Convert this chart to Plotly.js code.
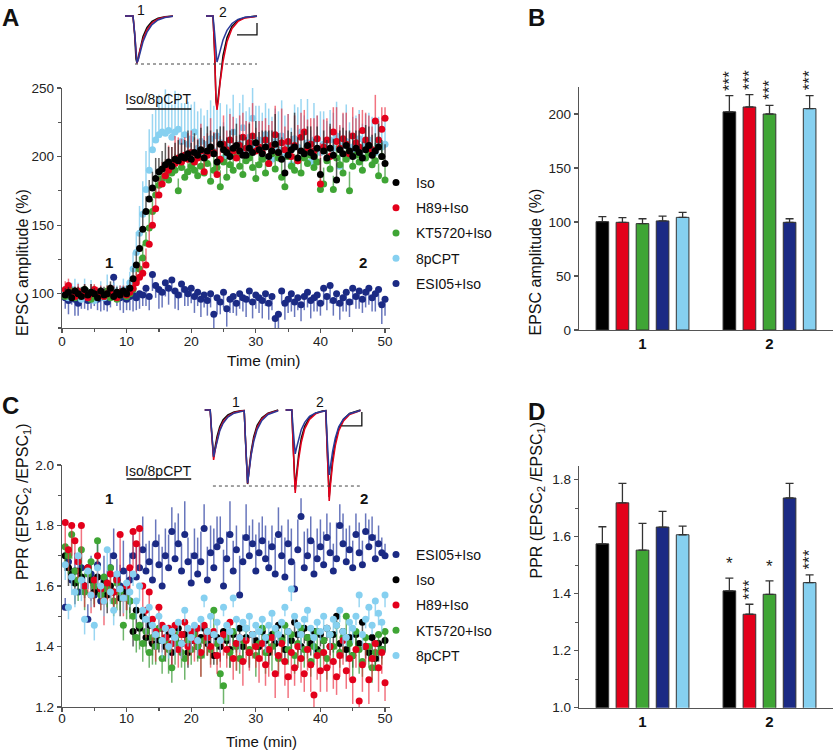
<!DOCTYPE html>
<html>
<head>
<meta charset="utf-8">
<script src="https://cdn.plot.ly/plotly-3.0.1.min.js"></script>
<style>
  html, body { margin: 0; padding: 0; background: #fff; }
  #chart { width: 837px; height: 752px; }
</style>
</head>
<body>
<div id="chart"></div>
<script>
// ---------------- data ----------------

// sampling times (min), shared by the time-course panels A and C
const timeMin = [
  0.5,1,1.5,2,2.5,3,3.5,4,4.5,5,5.5,6,6.5,7,7.5,8,8.5,9,9.5,10,
  10.5,11,11.5,12,12.5,13,13.5,14,14.5,15,15.5,16,16.5,17,17.5,18,18.5,19,19.5,20,
  20.5,21,21.5,22,22.5,23,23.5,24,24.5,25,25.5,26,26.5,27,27.5,28,28.5,29,29.5,30,
  30.5,31,31.5,32,32.5,33,33.5,34,34.5,35,35.5,36,36.5,37,37.5,38,38.5,39,39.5,40,
  40.5,41,41.5,42,42.5,43,43.5,44,44.5,45,45.5,46,46.5,47,47.5,48,48.5,49,49.5,50
];

// panel A: EPSC amplitude (%)
const ampIso = [
  99,101,97,102,100,98,103,99,101,100,97,102,99,100,104,98,101,99,102,100,
  104,111,121,133,147,160,169,177,184,189,191,194,196,193,198,197,200,199,202,198,
  203,201,205,199,204,207,202,196,209,205,203,200,206,208,204,201,201,206,203,210,
  205,202,207,200,204,209,203,198,188,201,205,207,199,204,202,208,203,200,206,187,
  204,199,206,201,183,205,202,208,204,200,206,203,199,205,208,201,204,207,200,195
];
const ampH89 = [
  103,106,100,98,102,99,101,97,100,103,99,101,98,100,102,99,97,101,100,99,
  101,104,108,112,115,121,136,150,162,172,180,186,190,193,195,199,196,201,198,203,
  196,199,204,189,201,206,203,187,198,209,205,212,204,199,208,214,206,210,215,204,
  207,203,212,195,208,216,203,210,205,211,200,208,197,214,218,206,209,204,213,180,
  207,212,200,218,211,206,213,209,202,215,210,207,219,212,208,205,226,212,220,228
];
const ampKT = [
  98,100,102,97,101,99,103,100,96,101,99,100,98,102,97,100,96,99,101,98,
  100,103,110,118,126,137,148,160,172,179,184,186,183,188,190,175,192,185,189,193,
  190,186,193,188,195,182,190,192,178,196,185,194,190,200,193,187,197,199,192,184,
  194,198,188,195,202,191,199,185,178,200,193,190,197,188,199,195,201,192,196,176,
  180,197,191,176,199,194,188,198,175,193,201,196,190,199,203,194,197,186,200,183
];
const ampCPT = [
  100,97,103,99,101,96,102,98,100,95,99,101,97,100,98,102,99,101,103,100,
  108,118,130,144,158,176,190,205,212,216,218,217,219,214,218,220,211,216,209,213,
  218,206,211,200,209,213,204,215,210,199,207,212,218,203,209,221,205,214,228,208,
  212,203,216,208,198,211,205,215,200,209,194,213,207,218,202,210,196,212,205,203,
  209,198,212,206,215,193,208,211,201,207,204,213,199,208,212,205,203,210,207,209
];
const ampESI = [
  97,95,99,96,93,97,100,95,98,101,96,99,97,94,100,112,99,97,98,96,
  98,99,97,100,99,104,98,114,106,103,101,108,104,110,102,99,107,103,100,104,
  98,101,96,99,95,100,85,97,94,101,89,96,98,93,100,97,96,102,94,99,
  97,95,100,93,98,82,85,102,93,96,100,94,97,92,98,101,95,97,99,93,
  104,98,106,95,100,93,97,101,94,104,98,102,96,101,104,97,100,103,92,96
];
// SEM (upward for Iso/H89/KT/8pCPT, downward for ESI05)
const errAmpIso = [
  5,4,6,3,5,7,4,5,6,4,5,3,6,4,5,7,4,5,3,6,
  6,8,10,12,13,11,14,12,15,10,13,16,11,14,12,15,10,13,17,12,
  14,11,16,13,18,12,15,24,13,17,11,19,14,16,12,15,13,18,14,16,
  13,17,12,19,15,22,14,16,11,18,13,25,15,12,17,14,19,13,16,12,
  15,13,18,12,16,14,19,11,15,17,13,16,12,18,14,15,13,17,12,14
];
const errAmpH89 = [
  6,5,4,7,5,4,6,5,7,4,6,5,4,6,5,7,4,5,6,5,
  6,7,8,10,9,12,14,11,15,13,16,12,18,14,20,15,17,13,19,16,
  18,14,20,26,16,22,15,30,17,21,14,19,25,16,22,18,20,15,24,17,
  19,23,16,28,18,21,14,25,17,20,15,22,26,18,16,21,19,24,17,30,
  20,16,22,18,25,17,19,23,16,21,18,24,15,20,22,17,19,14,16,8
];
const errAmpKT = [
  4,5,3,6,4,5,3,4,6,5,4,3,5,4,6,3,4,5,4,3,
  5,6,8,9,10,8,11,9,12,10,9,11,8,10,12,9,11,8,10,9,
  11,9,12,10,8,13,10,9,12,11,14,9,10,12,8,11,13,9,10,12,
  9,11,13,10,8,12,9,14,11,10,8,12,10,13,9,11,10,12,9,14,
  12,9,11,10,13,9,12,8,14,10,11,9,12,10,8,11,13,9,10,11
];
const errAmpCPT = [
  6,8,5,12,7,5,9,6,10,7,5,8,6,14,9,6,7,5,8,6,
  8,12,15,20,24,28,30,26,22,29,25,32,27,24,30,26,28,23,31,25,
  22,27,24,30,25,28,33,24,29,26,31,23,27,25,30,24,28,22,26,29,
  25,29,23,27,31,24,28,26,30,22,27,25,29,24,28,32,23,27,25,30,
  24,28,22,26,25,29,23,27,24,22,26,21,25,23,20,24,22,19,21,18
];
const errAmpESI = [
  8,10,7,12,9,8,11,7,9,10,8,12,9,7,10,11,8,9,12,8,
  10,12,9,11,8,13,10,12,9,14,11,10,12,9,13,11,10,12,9,11,
  12,10,13,9,11,10,14,12,9,11,13,10,12,9,11,10,13,9,12,10,
  11,13,9,12,10,14,11,9,12,10,13,11,9,12,10,11,13,10,12,9,
  12,10,13,11,9,12,10,14,11,12,9,13,10,11,12,10,13,11,14,12
];

// panel C: paired-pulse ratio
const pprIso = [
  1.70,1.66,1.64,1.61,1.65,1.63,1.60,1.66,1.62,1.58,1.63,1.59,1.61,1.57,1.60,1.58,1.62,1.56,1.59,1.57,
  1.55,1.45,1.52,1.46,1.50,1.43,1.47,1.41,1.45,1.42,1.46,1.40,1.44,1.38,1.43,1.46,1.41,1.44,1.38,1.42,
  1.45,1.40,1.43,1.46,1.41,1.44,1.37,1.43,1.40,1.45,1.42,1.39,1.44,1.41,1.46,1.40,1.43,1.38,1.44,1.42,
  1.40,1.45,1.42,1.38,1.44,1.41,1.47,1.43,1.39,1.45,1.42,1.48,1.44,1.40,1.46,1.43,1.41,1.45,1.39,1.44,
  1.42,1.46,1.40,1.44,1.50,1.41,1.45,1.39,1.43,1.37,1.44,1.41,1.48,1.40,1.38,1.43,1.36,1.41,1.39,1.42
];
const pprH89 = [
  1.81,1.72,1.80,1.75,1.68,1.80,1.60,1.66,1.57,1.62,1.70,1.59,1.55,1.61,1.64,1.58,1.62,1.77,1.56,1.60,
  1.66,1.78,1.74,1.79,1.60,1.52,1.58,1.49,1.45,1.53,1.47,1.43,1.46,1.41,1.47,1.39,1.44,1.48,1.40,1.45,
  1.42,1.46,1.38,1.47,1.43,1.40,1.45,1.37,1.42,1.44,1.39,1.48,1.36,1.41,1.43,1.35,1.42,1.38,1.44,1.40,
  1.36,1.41,1.34,1.39,1.43,1.31,1.37,1.41,1.35,1.30,1.38,1.33,1.40,1.36,1.31,1.39,1.34,1.24,1.37,1.32,
  1.38,1.33,1.40,1.35,1.30,1.37,1.42,1.32,1.36,1.29,1.39,1.22,1.34,1.40,1.29,1.36,1.41,1.33,1.38,1.28
];
const pprKT = [
  1.73,1.70,1.77,1.65,1.62,1.72,1.58,1.64,1.68,1.60,1.75,1.57,1.63,1.59,1.66,1.55,1.61,1.58,1.47,1.56,
  1.55,1.50,1.43,1.47,1.41,1.45,1.38,1.43,1.40,1.46,1.36,1.42,1.39,1.33,1.41,1.44,1.38,1.36,1.42,1.39,
  1.44,1.40,1.37,1.42,1.45,1.39,1.52,1.41,1.31,1.27,1.43,1.38,1.45,1.40,1.36,1.42,1.46,1.39,1.44,1.37,
  1.41,1.46,1.38,1.43,1.40,1.45,1.36,1.42,1.47,1.39,1.44,1.37,1.41,1.46,1.39,1.43,1.35,1.40,1.45,1.38,
  1.42,1.36,1.44,1.40,1.47,1.38,1.43,1.50,1.41,1.37,1.45,1.39,1.35,1.43,1.40,1.33,1.38,1.44,1.39,1.45
];
const pprCPT = [
  1.67,1.53,1.63,1.58,1.70,1.62,1.49,1.65,1.57,1.47,1.66,1.60,1.55,1.72,1.58,1.52,1.64,1.59,1.56,1.61,
  1.58,1.64,1.55,1.60,1.52,1.49,1.53,1.47,1.44,1.50,1.42,1.46,1.40,1.45,1.43,1.48,1.41,1.52,1.46,1.43,
  1.47,1.42,1.49,1.56,1.45,1.50,1.44,1.48,1.42,1.53,1.47,1.45,1.56,1.49,1.43,1.48,1.46,1.50,1.44,1.47,
  1.45,1.49,1.43,1.47,1.51,1.46,1.44,1.48,1.53,1.45,1.59,1.50,1.47,1.44,1.49,1.52,1.46,1.43,1.48,1.45,
  1.50,1.46,1.44,1.49,1.47,1.52,1.45,1.43,1.48,1.46,1.50,1.57,1.44,1.49,1.53,1.47,1.55,1.51,1.48,1.57
];
const pprESI = [
  1.53,1.68,1.62,1.65,1.58,1.66,1.60,1.49,1.64,1.57,1.67,1.55,1.62,1.59,1.66,1.70,1.63,1.60,1.65,1.58,
  1.62,1.70,1.63,1.66,1.72,1.65,1.68,1.62,1.74,1.67,1.60,1.70,1.66,1.78,1.69,1.74,1.65,1.77,1.68,1.61,
  1.70,1.64,1.68,1.79,1.62,1.71,1.66,1.73,1.75,1.60,1.69,1.77,1.65,1.72,1.57,1.68,1.76,1.70,1.74,1.65,
  1.71,1.75,1.69,1.66,1.73,1.64,1.77,1.70,1.63,1.74,1.68,1.59,1.72,1.83,1.66,1.70,1.75,1.64,1.69,1.73,
  1.67,1.76,1.71,1.65,1.69,1.80,1.74,1.68,1.72,1.66,1.77,1.71,1.67,1.78,1.73,1.76,1.69,1.74,1.71,1.70
];
// SEM (downward for Iso/H89/KT/8pCPT, upward for ESI05)
const errPprIso = [
  .05,.06,.04,.07,.05,.06,.04,.05,.07,.05,.06,.04,.05,.06,.04,.07,.05,.06,.04,.05,
  .04,.05,.06,.04,.05,.03,.06,.04,.05,.04,.03,.05,.04,.06,.03,.05,.04,.03,.05,.04,
  .05,.04,.03,.05,.04,.06,.03,.04,.05,.03,.04,.06,.04,.03,.05,.04,.03,.05,.04,.03,
  .04,.05,.03,.04,.06,.04,.05,.03,.04,.05,.03,.04,.06,.04,.05,.03,.04,.05,.03,.04,
  .05,.04,.03,.06,.04,.05,.03,.04,.05,.04,.06,.03,.05,.04,.03,.05,.04,.06,.03,.04
];
const errPprH89 = [
  .09,.07,.10,.08,.06,.11,.07,.08,.06,.09,.10,.07,.08,.06,.09,.07,.08,.12,.06,.08,
  .08,.12,.10,.14,.07,.09,.06,.08,.10,.07,.09,.06,.08,.07,.09,.06,.08,.07,.06,.08,
  .07,.06,.08,.09,.06,.07,.08,.06,.09,.07,.06,.08,.07,.09,.06,.08,.07,.06,.08,.07,
  .08,.06,.07,.09,.06,.08,.07,.06,.08,.07,.09,.06,.07,.08,.06,.07,.09,.06,.08,.07,
  .06,.08,.07,.09,.06,.07,.08,.06,.07,.08,.06,.07,.09,.06,.08,.07,.06,.08,.07,.06
];
const errPprKT = [
  .07,.06,.08,.05,.07,.09,.06,.05,.08,.06,.07,.05,.08,.06,.07,.05,.09,.06,.05,.07,
  .06,.07,.05,.08,.06,.07,.05,.09,.06,.07,.05,.06,.08,.05,.07,.06,.05,.07,.06,.05,
  .06,.05,.07,.06,.08,.05,.06,.07,.05,.06,.07,.05,.06,.08,.05,.06,.07,.05,.06,.07,
  .05,.06,.07,.05,.08,.06,.05,.07,.06,.05,.07,.06,.08,.05,.06,.07,.05,.06,.07,.05,
  .06,.07,.05,.06,.08,.05,.07,.06,.05,.07,.06,.08,.05,.06,.07,.05,.06,.07,.05,.06
];
const errPprCPT = [
  .05,.04,.06,.05,.04,.07,.05,.06,.04,.05,.06,.04,.05,.07,.04,.05,.06,.04,.05,.06,
  .05,.04,.06,.05,.04,.05,.06,.04,.05,.04,.06,.05,.04,.05,.06,.04,.05,.04,.06,.05,
  .04,.05,.04,.03,.05,.04,.03,.05,.04,.03,.05,.04,.03,.04,.05,.03,.04,.05,.03,.04,
  .03,.04,.05,.03,.04,.05,.03,.04,.03,.05,.04,.03,.04,.05,.03,.04,.03,.05,.04,.03,
  .04,.03,.05,.04,.03,.04,.05,.03,.04,.05,.03,.04,.05,.03,.04,.03,.05,.04,.03,.04
];
const errPprESI = [
  .03,.05,.04,.06,.05,.07,.04,.05,.06,.04,.07,.05,.08,.06,.05,.09,.06,.07,.10,.08,
  .09,.07,.10,.08,.11,.09,.07,.12,.08,.10,.13,.09,.11,.08,.12,.10,.09,.11,.08,.10,
  .09,.12,.10,.08,.11,.09,.13,.10,.08,.12,.09,.11,.10,.08,.13,.09,.11,.10,.08,.12,
  .10,.08,.11,.09,.07,.12,.09,.10,.13,.08,.11,.09,.10,.06,.12,.09,.08,.11,.10,.09,
  .11,.08,.10,.09,.12,.07,.10,.11,.08,.09,.07,.10,.08,.06,.09,.07,.08,.06,.05,.04
];

// drug application window (min)
const drugWindow = [10, 20];

// panels B and D: summary at time points 1 and 2
const periods = ['1', '2'];
const barAmpIso = [100.3, 202.0], barAmpIsoErr = [4.6, 15.0];
const barAmpH89 = [99.7, 206.5],  barAmpH89Err = [4.3, 11.5];
const barAmpKT  = [98.5, 200.0],  barAmpKTErr  = [4.5, 8.0];
const barAmpESI = [101.0, 99.7],  barAmpESIErr = [4.5, 3.3];
const barAmpCPT = [104.3, 205.0], barAmpCPTErr = [4.7, 12.0];
const barPprIso = [1.575, 1.410], barPprIsoErr = [0.060, 0.045];
const barPprH89 = [1.719, 1.328], barPprH89Err = [0.068, 0.035];
const barPprKT  = [1.553, 1.398], barPprKTErr  = [0.094, 0.047];
const barPprESI = [1.634, 1.736], barPprESIErr = [0.055, 0.051];
const barPprCPT = [1.607, 1.439], barPprCPTErr = [0.030, 0.027];
const starsAmp = ['***', '***', '***', '', '***'];
const starsPpr = ['*', '***', '*', '', '***'];

// example EPSC traces (ms, pA); sweep 1 and sweep 2 split by null
const epscT = [2.5,6.5,7.3,8.0,8.5,9.2,10.0,11.5,13.5,16,19,22.5,26.5,null,
               43,46.5,47.3,48.0,48.5,49.2,50.0,51.5,53.5,56,59,62.5,68.5];
const epscIso = [0,0,-150,-360,-392,-340,-260,-170,-95,-45,-18,-6,0,null,
                 0,0,-300,-700,-767,-670,-520,-330,-180,-85,-35,-12,0];
const epscH89 = [0,0,-140,-350,-395,-355,-285,-195,-115,-58,-25,-9,-2,null,
                 0,0,-290,-710,-783,-700,-560,-380,-215,-105,-45,-16,-2];
const epscESI = [0,0,-135,-345,-390,-360,-300,-215,-135,-72,-33,-12,-3,null,
                 0,0,-140,-340,-383,-345,-285,-200,-120,-62,-28,-10,-2];
const epscRef = -400;          // dotted reference level (pA)
const scaleA = [10, 100];      // scale bar (ms, pA)

// example paired-pulse traces (ms, pA)
const ppT = [7,15,17,19,20,22,25,29,34,41,50,60,65,67,69,70,72,75,79,84,91,100,115,null,
             126,135,137,139,140,142,145,149,154,161,170,180,185,187,189,190,192,195,199,204,211,220,236];
const ppIso = [0,0,-150,-320,-336,-270,-190,-120,-70,-35,-15,-6,-4,-230,-505,-529,-430,-300,-190,-110,-55,-22,0,null,
               0,0,-250,-545,-570,-460,-320,-200,-115,-55,-22,-8,-5,-270,-595,-621,-500,-350,-225,-130,-65,-25,0];
const ppH89 = [0,0,-160,-340,-357,-295,-215,-140,-85,-45,-20,-8,-5,-225,-500,-525,-440,-320,-210,-125,-65,-27,-3,null,
               0,0,-260,-565,-593,-490,-355,-230,-135,-68,-28,-10,-6,-280,-620,-650,-530,-385,-255,-150,-78,-32,-4];
const ppESI = [0,0,-145,-315,-334,-290,-220,-150,-95,-50,-23,-9,-6,-220,-495,-522,-445,-330,-225,-140,-75,-32,-5,null,
               0,0,-135,-295,-314,-270,-205,-140,-88,-46,-21,-8,-5,-200,-440,-464,-395,-295,-200,-120,-64,-27,-4];
const ppRef = -543;
const scaleC = [30, 100];

// ---------------- styling ----------------
const FONT = 'Liberation Sans, Arial, Helvetica, sans-serif';
const W = 837, H = 752;
const px = x => x / W;
const py = y => 1 - y / H;

const col = {
  iso: '#000000', h89: '#e3001b', kt: '#3fa535', cpt: '#86d0f0', esi: '#1b2a84'
};
const errCol = {
  iso: 'rgba(40,40,40,0.75)', h89: 'rgba(235,40,60,0.65)', kt: 'rgba(50,150,45,0.7)',
  cpt: 'rgba(120,200,238,0.75)', esi: 'rgba(40,60,160,0.7)'
};
const zeros = timeMin.map(() => 0);

// one time-course trace; up = error drawn upward
function course(name, key, y, err, up, xa, ya, legend, rank) {
  return {
    type: 'scatter', mode: 'markers', name: name,
    x: timeMin, y: y, xaxis: xa, yaxis: ya,
    legend: legend, legendgroup: legend + key, legendrank: rank,
    cliponaxis: false,
    marker: { color: col[key], size: 7 },
    error_y: {
      type: 'data', symmetric: false,
      array: up ? err : zeros, arrayminus: up ? zeros : err,
      color: errCol[key], thickness: 1.5, width: 0
    }
  };
}

function bars(y, err, key, xa, ya) {
  return {
    type: 'bar', x: periods, y: y, xaxis: xa, yaxis: ya, showlegend: false,
    marker: { color: col[key], line: { color: '#333', width: 1 } },
    error_y: {
      type: 'data', symmetric: false, array: err, arrayminus: [0, 0],
      color: '#333', thickness: 1.3, width: 4
    }
  };
}

function wave(x, y, color, xa, ya) {
  return {
    type: 'scatter', mode: 'lines', x: x, y: y, xaxis: xa, yaxis: ya,
    showlegend: false, connectgaps: false,
    line: { color: color, width: 1.5 }
  };
}

const data = [
  // panel A (drawn bottom to top)
  course('ESI05+Iso', 'esi', ampESI, errAmpESI, false, 'x', 'y', 'legend', 5),
  course('8pCPT', 'cpt', ampCPT, errAmpCPT, true, 'x', 'y', 'legend', 4),
  course('KT5720+Iso', 'kt', ampKT, errAmpKT, true, 'x', 'y', 'legend', 3),
  course('H89+Iso', 'h89', ampH89, errAmpH89, true, 'x', 'y', 'legend', 2),
  course('Iso', 'iso', ampIso, errAmpIso, true, 'x', 'y', 'legend', 1),
  // panel B
  bars(barAmpIso, barAmpIsoErr, 'iso', 'x2', 'y2'),
  bars(barAmpH89, barAmpH89Err, 'h89', 'x2', 'y2'),
  bars(barAmpKT, barAmpKTErr, 'kt', 'x2', 'y2'),
  bars(barAmpESI, barAmpESIErr, 'esi', 'x2', 'y2'),
  bars(barAmpCPT, barAmpCPTErr, 'cpt', 'x2', 'y2'),
  // panel C
  course('ESI05+Iso', 'esi', pprESI, errPprESI, true, 'x3', 'y3', 'legend2', 1),
  course('Iso', 'iso', pprIso, errPprIso, false, 'x3', 'y3', 'legend2', 2),
  course('KT5720+Iso', 'kt', pprKT, errPprKT, false, 'x3', 'y3', 'legend2', 4),
  course('H89+Iso', 'h89', pprH89, errPprH89, false, 'x3', 'y3', 'legend2', 3),
  course('8pCPT', 'cpt', pprCPT, errPprCPT, false, 'x3', 'y3', 'legend2', 5),
  // panel D
  bars(barPprIso, barPprIsoErr, 'iso', 'x4', 'y4'),
  bars(barPprH89, barPprH89Err, 'h89', 'x4', 'y4'),
  bars(barPprKT, barPprKTErr, 'kt', 'x4', 'y4'),
  bars(barPprESI, barPprESIErr, 'esi', 'x4', 'y4'),
  bars(barPprCPT, barPprCPTErr, 'cpt', 'x4', 'y4'),
  // insets
  wave(epscT, epscIso, '#111', 'x5', 'y5'),
  wave(epscT, epscH89, '#e3001b', 'x5', 'y5'),
  wave(epscT, epscESI, '#2a3a9a', 'x5', 'y5'),
  wave(ppT, ppIso, '#111', 'x6', 'y6'),
  wave(ppT, ppH89, '#e3001b', 'x6', 'y6'),
  wave(ppT, ppESI, '#2a3a9a', 'x6', 'y6')
];

// ---------------- axes ----------------
const axisBase = {
  showline: true, linecolor: '#555', linewidth: 1.2, showgrid: false, zeroline: false,
  ticks: 'outside', ticklen: 4, tickcolor: '#555', tickwidth: 1.2,
  tickfont: { family: FONT, size: 13.5, color: '#222' }, fixedrange: true
};
const minorTicks = (d) => ({ dtick: d, ticks: 'outside', ticklen: 3, tickcolor: '#555', tickwidth: 1.2, showgrid: false });

const xTime = (anchor, standoff) => Object.assign({}, axisBase, {
  anchor: anchor, domain: [px(62), px(390)], range: [0, 50.77],
  tick0: 0, dtick: 10, minor: minorTicks(5), ticklabelstandoff: standoff
});
const xCat = (anchor) => Object.assign({}, axisBase, {
  anchor: anchor, domain: [px(579), px(833)], range: [-0.5, 1.5],
  type: 'category', ticks: '', tickfont: { family: FONT, size: 15, color: '#111', weight: 'bold' }
});
const hiddenAxis = (anchor, dom, rng) => ({
  anchor: anchor, domain: dom, range: rng, visible: false, fixedrange: true
});

// ---------------- annotations ----------------
const ann = [];
function label(text, x, y, size, opts) {
  ann.push(Object.assign({
    text: text, x: x, y: y, xref: 'paper', yref: 'paper', showarrow: false,
    font: { family: FONT, size: size, color: '#111' }
  }, opts || {}));
}
// panel letters
label('<b>A</b>', px(0), py(2), 24, { xanchor: 'left', yanchor: 'top' });
label('<b>B</b>', px(526), py(2), 24, { xanchor: 'left', yanchor: 'top' });
label('<b>C</b>', px(0), py(390), 24, { xanchor: 'left', yanchor: 'top' });
label('<b>D</b>', px(526), py(396), 24, { xanchor: 'left', yanchor: 'top' });
// axis titles
label('EPSC amplitude (%)', px(12), py(187), 16, { textangle: -90 });
label('Time (min)', px(225), py(360), 15.5);
label('EPSC amplitude (%)', px(535), py(187), 16, { textangle: -90 });
label('PPR (EPSC<sub>2</sub> /EPSC<sub>1</sub>)', px(12), py(582), 16, { textangle: -90 });
label('Time (min)', px(225), 0, 15, { yanchor: 'bottom', borderpad: 0, yshift: 1 });
label('PPR (EPSC<sub>2</sub> /EPSC<sub>1</sub>)', px(537), py(581), 16, { textangle: -90 });

// in-plot labels (data coordinates)
function dataLabel(text, x, y, xa, ya, size) {
  ann.push({ text: text, x: x, y: y, xref: xa, yref: ya, showarrow: false,
             font: { family: FONT, size: size, color: '#111' } });
}
dataLabel('Iso/8pCPT', 15, 242, 'x', 'y', 14);
dataLabel('<b>1</b>', 7.2, 122.6, 'x', 'y', 15);
dataLabel('<b>2</b>', 46.6, 122.6, 'x', 'y', 15);
dataLabel('Iso/8pCPT', 15, 1.980, 'x3', 'y3', 14);
dataLabel('<b>1</b>', 7.3, 1.888, 'x3', 'y3', 15);
dataLabel('<b>2</b>', 46.7, 1.888, 'x3', 'y3', 15);
dataLabel('1', 10.5, 50, 'x5', 'y5', 14);
dataLabel('2', 51.5, 33, 'x5', 'y5', 14);
dataLabel('1', 53, 57, 'x6', 'y6', 14);
dataLabel('2', 176.5, 57, 'x6', 'y6', 14);

// significance stars above group 2
const slot = (1 - 0.21) / 5;
function stars(list, tops, ya) {
  list.forEach((s, j) => {
    if (!s) return;
    ann.push({
      text: s, x: 1 + (j - 2) * slot, y: tops[j], xref: ya === 'y2' ? 'x2' : 'x4', yref: ya,
      showarrow: false, yanchor: 'bottom', yshift: 3,
      textangle: s.length > 1 ? -90 : 0,
      font: { family: FONT, size: 17, color: '#222' }
    });
  });
}
stars(starsAmp, [barAmpIso[1] + barAmpIsoErr[1], barAmpH89[1] + barAmpH89Err[1],
                 barAmpKT[1] + barAmpKTErr[1], barAmpESI[1] + barAmpESIErr[1],
                 barAmpCPT[1] + barAmpCPTErr[1]], 'y2');
stars(starsPpr, [barPprIso[1] + barPprIsoErr[1], barPprH89[1] + barPprH89Err[1],
                 barPprKT[1] + barPprKTErr[1], barPprESI[1] + barPprESIErr[1],
                 barPprCPT[1] + barPprCPTErr[1]], 'y4');

// ---------------- shapes ----------------
const shapes = [
  { type: 'line', xref: 'x', yref: 'y', x0: drugWindow[0], x1: drugWindow[1], y0: 234.7, y1: 234.7,
    line: { color: '#111', width: 1.5 } },
  { type: 'line', xref: 'x3', yref: 'y3', x0: drugWindow[0], x1: drugWindow[1], y0: 1.954, y1: 1.954,
    line: { color: '#111', width: 1.5 } },
  { type: 'line', xref: 'x5', yref: 'y5', x0: 7.5, x1: 68.5, y0: epscRef, y1: epscRef,
    line: { color: '#444', width: 1, dash: 'dot' } },
  { type: 'path', xref: 'x5', yref: 'y5',
    path: `M ${68.5 - scaleA[0]} -158 L 68.5 -158 L 68.5 ${-158 + scaleA[1]}`,
    line: { color: '#111', width: 1.3 } },
  { type: 'line', xref: 'x6', yref: 'y6', x0: 19, x1: 235, y0: ppRef, y1: ppRef,
    line: { color: '#444', width: 1, dash: 'dot' } },
  { type: 'path', xref: 'x6', yref: 'y6',
    path: `M ${238 - scaleC[0]} -114 L 238 -114 L 238 ${-114 + scaleC[1]}`,
    line: { color: '#111', width: 1.3 } }
];

const legendBase = {
  xanchor: 'left', yanchor: 'top', bgcolor: 'rgba(0,0,0,0)', borderwidth: 0,
  font: { family: FONT, size: 14, color: '#111' },
  traceorder: 'grouped', tracegroupgap: 4, itemwidth: 30
};

const layout = {
  width: W, height: H,
  margin: { l: 0, r: 0, t: 0, b: 0 },
  paper_bgcolor: '#fff', plot_bgcolor: 'rgba(0,0,0,0)',
  font: { family: FONT, size: 13, color: '#111' },
  hovermode: false, showlegend: true,
  barmode: 'group', bargap: 0.21, bargroupgap: 0.37,
  legend: Object.assign({}, legendBase, { x: px(376), y: py(167) }),
  legend2: Object.assign({}, legendBase, { x: px(376), y: py(539) }),

  xaxis: xTime('y', -3),
  yaxis: Object.assign({}, axisBase, {
    anchor: 'x', domain: [py(328), py(88)], range: [75, 250],
    tick0: 0, dtick: 50, minor: minorTicks(25)
  }),
  xaxis2: xCat('y2'),
  yaxis2: Object.assign({}, axisBase, {
    anchor: 'x2', domain: [py(330), py(87)], range: [0, 225], tick0: 0, dtick: 50
  }),
  xaxis3: xTime('y3', -5),
  yaxis3: Object.assign({}, axisBase, {
    anchor: 'x3', domain: [py(707), py(465)], range: [1.2, 2.0],
    tick0: 0, dtick: 0.2, tickformat: '.1f', minor: minorTicks(0.1)
  }),
  xaxis4: xCat('y4'),
  yaxis4: Object.assign({}, axisBase, {
    anchor: 'x4', domain: [py(707.7), py(465.5)], range: [1.0, 1.85],
    tick0: 0, dtick: 0.2, tickformat: '.1f', minor: minorTicks(0.1)
  }),
  xaxis5: hiddenAxis('y5', [px(120), px(270)], [0, 75]),
  yaxis5: hiddenAxis('x5', [py(125), py(0)], [-908.3, 133.3]),
  xaxis6: hiddenAxis('y6', [px(200), px(370)], [0, 250]),
  yaxis6: hiddenAxis('x6', [py(505), py(395)], [-678.6, 107.1]),

  annotations: ann,
  shapes: shapes
};

Plotly.newPlot('chart', data, layout, { displayModeBar: false, staticPlot: true });
</script>
</body>
</html>
